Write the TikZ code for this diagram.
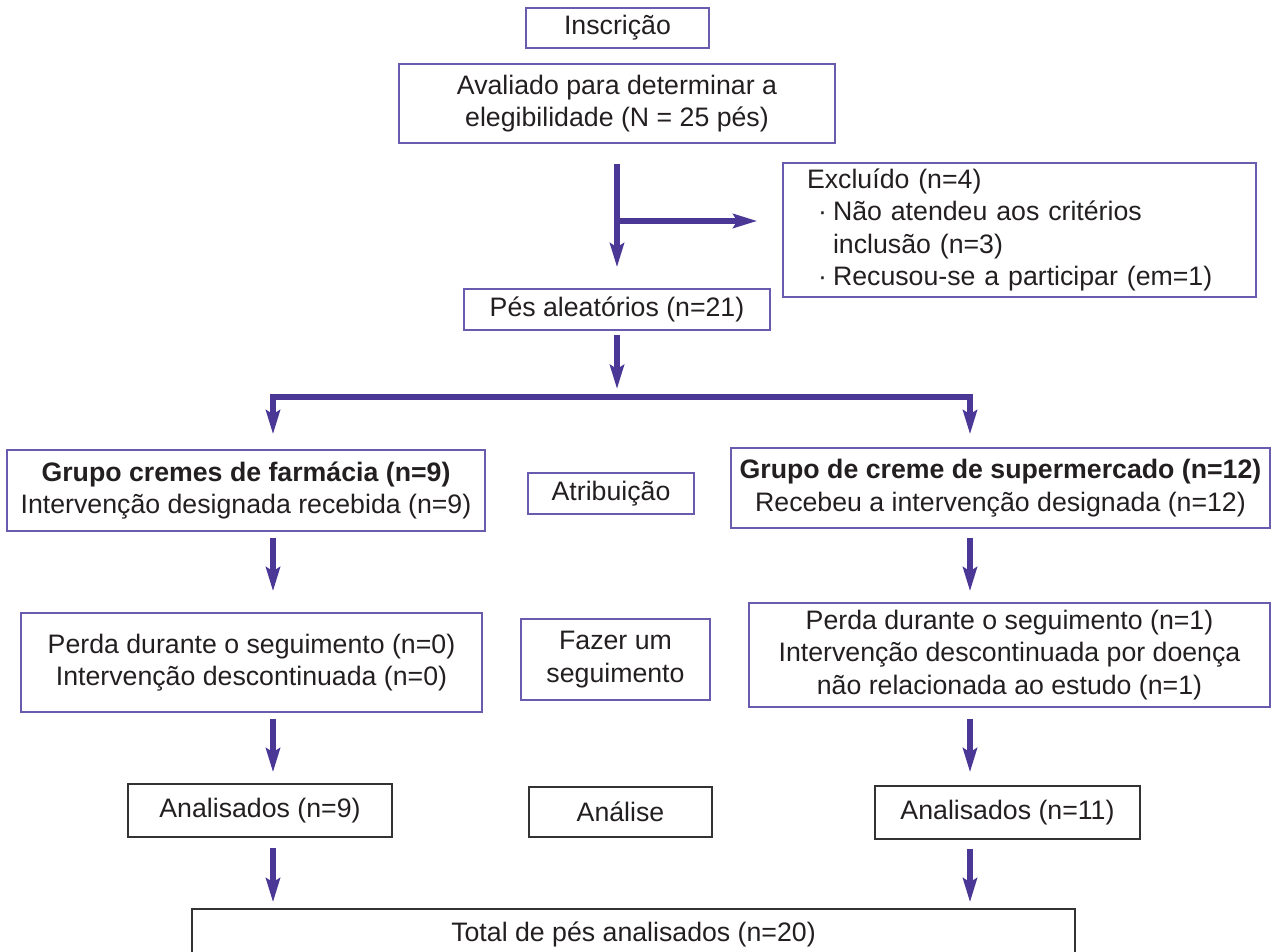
\documentclass[tikz,border=0pt]{standalone}
\usepackage{fontspec}
\setmainfont{Liberation Sans}
\usetikzlibrary{arrows.meta}

\definecolor{roxo}{HTML}{4B3796}
\definecolor{roxoclaro}{HTML}{6A5BAF}
\definecolor{tinta}{HTML}{231F20}

\tikzset{
  caixa/.style={draw=roxoclaro, line width=0.9pt, text=tinta, align=center, inner sep=0pt,
    font=\fontsize{15.2}{18.4}\selectfont},
  caixapreta/.style={caixa, draw=black!80},
  seta/.style={->, draw=roxo, line width=3.1pt},
}

\begin{document}
\begin{tikzpicture}[x=0.02cm, y=-0.02cm, >={Stealth[length=0.48cm,width=0.28cm,inset=0.08cm]}]
\useasboundingbox (0,0) rectangle (1272,952);

% coluna central
\node[caixa, minimum width=3.66cm, minimum height=0.8cm] (insc) at (617.5,28) {Inscrição};
\node[caixa, minimum width=8.72cm, minimum height=1.58cm] (aval) at (617,103.5) {Avaliado para determinar a\\elegibilidade (N = 25 pés)};
\node[caixa, align=left, text width=8.5cm, inner xsep=0.48cm, minimum height=2.68cm] (excl) at (1019.5,230)
  {Excluído (n=4)\\
   \hspace*{0.22cm}\makebox[0.3cm][l]{·}Não atendeu aos critérios\\
   \hspace*{0.52cm}inclusão (n=3)\\
   \hspace*{0.22cm}\makebox[0.3cm][l]{·}Recusou-se a participar (em=1)};
\node[caixa, minimum width=6.12cm, minimum height=0.82cm] (pes) at (617,309.5) {Pés aleatórios (n=21)};

% grupos
\node[caixa, minimum width=9.56cm, minimum height=1.62cm] (grpL) at (246,490.5) {\textbf{Grupo cremes de farmácia (n=9)}\\Intervenção designada recebida (n=9)};
\node[caixa, minimum width=3.32cm, minimum height=0.82cm] (atrib) at (611,493.5) {Atribuição};
\node[caixa, minimum width=10.78cm, minimum height=1.6cm] (grpR) at (1000.5,488) {\textbf{Grupo de creme de supermercado (n=12)}\\Recebeu a intervenção designada (n=12)};

\node[caixa, minimum width=9.22cm, minimum height=1.98cm] (perdaL) at (251.5,662.5) {Perda durante o seguimento (n=0)\\Intervenção descontinuada (n=0)};
\node[caixa, minimum width=3.78cm, minimum height=1.62cm] (fazer) at (615.5,659.5) {Fazer um\\seguimento};
\node[caixa, minimum width=10.42cm, minimum height=2.08cm] (perdaR) at (1009.5,655) {Perda durante o seguimento (n=1)\\Intervenção descontinuada por doença\\não relacionada ao estudo (n=1)};

\node[caixapreta, minimum width=5.28cm, minimum height=1.06cm] (anaL) at (260,810.5) {Analisados (n=9)};
\node[caixapreta, minimum width=3.66cm, minimum height=1.0cm] (analise) at (620.5,812) {Análise};
\node[caixapreta, minimum width=5.3cm, minimum height=1.06cm] (anaR) at (1007.5,812.5) {Analisados (n=11)};
\node[caixapreta, minimum width=17.66cm, minimum height=1.0cm] (total) at (633.5,934) {Total de pés analisados (n=20)};

\coordinate (colL) at (273,0);
\coordinate (colR) at (970,0);
\coordinate (ramo) at (617,221);
\coordinate (split) at (617,397);

\draw[seta, shorten <=0.4cm, shorten >=0.42cm] (aval.south) -- (aval.south |- pes.north);
\draw[seta, shorten >=0.5cm] (ramo) -- (ramo -| excl.west);
\draw[seta, shorten <=0.08cm, shorten >=0.16cm] (pes.south) -- (split);
\draw[seta, shorten >=0.3cm] (split) -| (grpL.north -| colL);
\draw[seta, shorten >=0.26cm] (split) -| (grpR.north -| colR);

\draw[seta, shorten <=0.12cm, shorten >=0.42cm] (grpL.south -| colL) -- (perdaL.north -| colL);
\draw[seta, shorten <=0.12cm, shorten >=0.22cm] (perdaL.south -| colL) -- (anaL.north -| colL);
\draw[seta, shorten <=0.2cm, shorten >=0.12cm] (anaL.south -| colL) -- (total.north -| colL);

\draw[seta, shorten <=0.18cm, shorten >=0.22cm] (grpR.south -| colR) -- (perdaR.north -| colR);
\draw[seta, shorten <=0.22cm, shorten >=0.26cm] (perdaR.south -| colR) -- (anaR.north -| colR);
\draw[seta, shorten <=0.18cm, shorten >=0.12cm] (anaR.south -| colR) -- (total.north -| colR);

\end{tikzpicture}
\end{document}
